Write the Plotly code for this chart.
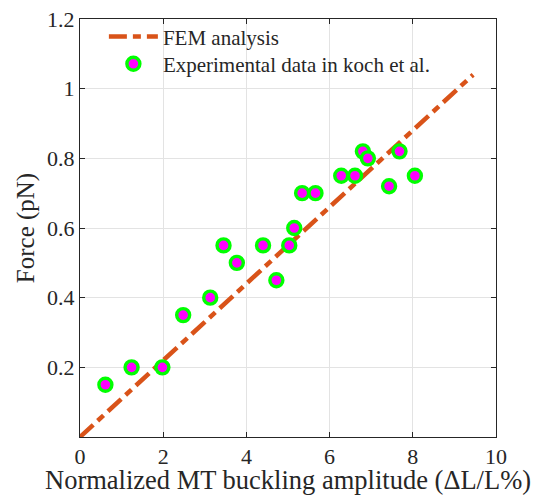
import plotly.graph_objects as go

# FEM analysis line (endpoints)
fem_x = [0.0, 9.45]
fem_y = [0.0, 1.04]

# Experimental data in Koch et al.
exp_x = [0.61, 1.24, 1.98, 2.48, 3.13, 3.45, 3.77, 4.40, 4.72, 5.03, 5.15,
         5.34, 5.66, 6.28, 6.61, 6.80, 6.92, 7.43, 7.68, 8.05]
exp_y = [0.15, 0.20, 0.20, 0.35, 0.40, 0.55, 0.50, 0.55, 0.45, 0.55, 0.60,
         0.70, 0.70, 0.75, 0.75, 0.82, 0.80, 0.72, 0.82, 0.75]

x_ticks = [0, 2, 4, 6, 8, 10]
y_ticks = [0.2, 0.4, 0.6, 0.8, 1.0, 1.2]
y_tick_text = ["0.2", "0.4", "0.6", "0.8", "1", "1.2"]
x_title = "Normalized MT buckling amplitude (ΔL/L%)"
y_title = "Force (pN)"

FONT = "Liberation Serif"
AX = "#262626"
GRID = "#e3e3e3"

fig = go.Figure()
fig.add_trace(go.Scatter(
    x=fem_x, y=fem_y, mode="lines", name="FEM analysis",
    line=dict(color="#D95319", width=4.5, dash="18px,6px,8px,6px"),
    legend="legend",
))
fig.add_trace(go.Scatter(
    x=exp_x, y=exp_y, mode="markers", name="Experimental data in koch et al.",
    marker=dict(color="#FF00FF", size=13, line=dict(color="#00FF00", width=3.4)),
    legend="legend2",
))

axis_common = dict(
    showline=True, linecolor=AX, linewidth=1, mirror="ticks",
    ticks="inside", ticklen=5, tickcolor=AX, tickwidth=1,
    showgrid=True, gridcolor=GRID, gridwidth=1, zeroline=False,
    automargin=False,
    tickfont=dict(family=FONT, size=22, color=AX),
)

legend_common = dict(
    xanchor="left", yanchor="middle",
    bgcolor="rgba(0,0,0,0)", borderwidth=0,
    font=dict(family=FONT, size=21, color=AX),
    itemwidth=49,
)

fig.update_layout(
    width=541, height=497,
    margin=dict(l=79.5, r=45, t=19, b=60),
    paper_bgcolor="white", plot_bgcolor="white",
    font=dict(family=FONT, color=AX),
    xaxis=dict(range=[0, 10], tickvals=x_ticks, ticklabelstandoff=0,
               **axis_common),
    yaxis=dict(range=[0, 1.2], tickvals=y_ticks, ticktext=y_tick_text,
               title=dict(text=y_title,
                          font=dict(family=FONT, size=25, color=AX), standoff=5),
               **axis_common),
    legend=dict(x=0.0574, y=0.957, **legend_common),
    legend2=dict(x=0.0574, y=0.892, **legend_common),
    showlegend=True,
    annotations=[dict(
        text=x_title, xref="paper", yref="paper", x=0.5, y=-0.141,
        xanchor="center", yanchor="bottom", showarrow=False, borderpad=0,
        font=dict(family=FONT, size=26.5, color=AX),
    )],
)

fig.write_html(
    "out.html",
    config={"displayModeBar": False},
    post_script="document.body.style.margin='0';document.body.style.overflow='hidden';",
)
